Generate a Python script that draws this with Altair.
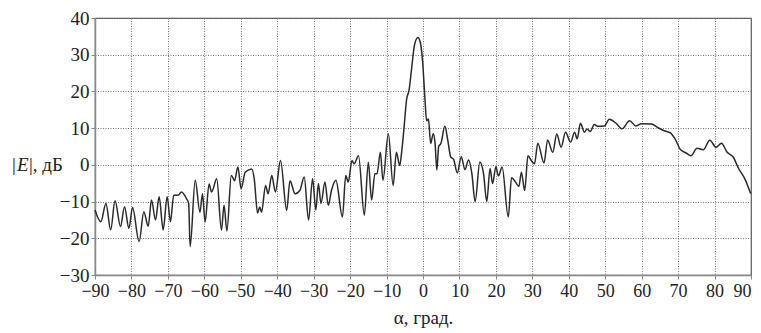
import altair as alt
import pandas as pd

angle = [
    -90, -88.4, -87, -85.7, -84.5, -83, -81.9, -80.7, -79.7, -77.9,
    -76.6, -75.4, -74.5, -73.4, -72.4, -71.3, -70.2, -69.3, -68.4, -67.2,
    -66.3, -64.9, -64.3, -63.9, -62.5, -61.2, -60.5, -59.8, -58.7, -58,
    -56.6, -55.3, -54.6, -53.8, -52.6, -51.7, -50.8, -49.9, -48.8, -47,
    -46.3, -45.4, -44.8, -44.3, -43.2, -42.5, -41.5, -40.5, -39.1, -37.4,
    -36.5, -35.1, -33.8, -32.6, -31.4, -30.3, -29.4, -28.7, -28, -26.9,
    -26, -25.1, -23.9, -22.1, -21.2, -20.5, -19.5, -18.9, -17.7, -16.1,
    -15, -14.1, -13.2, -12.6, -11.7, -11, -9.5, -8.2, -7.3, -6.4,
    -5.8, -5.3, -4.5, -3.8, -3.2, -2.3, -1.4, -0.7, -0.1, 0.5,
    1, 1.5, 2.1, 2.8, 3.3, 3.8, 4.3, 4.9, 6.0, 6.8,
    7.6, 8.4, 9.4, 10.5, 11.5, 12.5, 13.4, 14.3, 15.6, 16.6,
    17.5, 18.4, 19.1, 20, 20.7, 21.7, 23.4, 24.3, 25.4, 26.3,
    27, 27.9, 28.8, 29.7, 30.6, 31.5, 33.2, 34.2, 35.6, 36.7,
    37.9, 39.1, 40.5, 41.6, 42.3, 43.2, 44.3, 45, 45.9, 47,
    47.9, 49.8, 51.1, 52.9, 54.6, 56.7, 58.4, 59.9, 62.7, 64.5,
    66.2, 67.9, 69.2, 70.7, 72.1, 73.5, 75.2, 76.9, 78.7, 80.4,
    81.9, 83.4, 85.2, 86.6, 88.3, 89.9,
]

level_db = [
    -12.3, -15.5, -10.5, -17.7, -9.8, -16.8, -11.4, -17.3, -11.6, -20.9,
    -12.8, -16.7, -9.6, -15, -8.7, -17.7, -8.7, -15.5, -8.3, -8.3,
    -7.4, -9.2, -10.5, -22.3, -4.2, -12.9, -7.9, -15.6, -5.2, -7.4,
    -3.8, -17.8, -11, -18, -2.9, -4.3, -0.6, -6.5, -2, -1.1,
    -3.8, -13.1, -11.5, -12.9, -5.6, -7.9, -2.9, -7.4, 1.2, -12.4,
    -4.3, -7.9, -7, -3.3, -15, -3.8, -12.3, -5.1, -10.5, -4.7,
    -11, -6.9, -4.2, -14.2, -2.9, -4.7, 1.2, 0.3, 2.5, -13.7,
    0.7, -9.6, -2.4, -2.4, 3.4, -4.2, 8.5, -5.6, 3.4, -0.2,
    4, 9, 17.8, 20.5, 25.6, 32.8, 34.7, 33.2, 28, 18.5,
    12, 12.5, 5.8, 8.5, 6, -1.4, 5, 5.8, 10.5, 6.7,
    2.2, 1.5, -2.2, 2.2, -1.3, 1.3, -2.3, -10, 0.8, -2.3,
    -10, -1, -5.1, -0.5, -3.0, -0.6, -14.2, -3.5, -4.7, -5.9,
    -2, -7, 2.5, 1.2, 0.3, 5.9, 0.5, 6.8, 3.4, 8.4,
    4.8, 8.9, 6.2, 8.9, 7.1, 11.3, 8.9, 9.8, 9.1, 11,
    10.5, 10.6, 12.4, 11.4, 9.8, 12, 10.6, 11.2, 11.1, 10.1,
    9.3, 8.7, 7, 4.1, 3.3, 2.5, 4.5, 4.1, 6.7, 4.8,
    5.9, 3.5, 2, -1, -3.8, -7.8,
]

x_ticks = list(range(-90, 91, 10))
y_ticks = list(range(-30, 41, 10))

df = pd.DataFrame({"alpha": angle, "E": level_db})

FONT = "Liberation Serif"

line = alt.Chart(df).mark_line(
    color="#2a2a2a", strokeWidth=1.5, interpolate="monotone"
).encode(
    x=alt.X("alpha:Q",
            scale=alt.Scale(domain=[-90, 90], nice=False, zero=False),
            axis=alt.Axis(values=x_ticks, title="α, град.", format="d",
                          grid=True, tickSize=4, labelPadding=3,
                          titlePadding=8, labelFlush=False,
                          labelAlign=alt.condition("datum.value == 90",
                                                   alt.value("right"),
                                                   alt.value("center")),
                          labelFont=FONT, labelFontSize=18, titleFont=FONT,
                          titleFontSize=19)),
    y=alt.Y("E:Q",
            scale=alt.Scale(domain=[-30, 40], nice=False, zero=False),
            axis=alt.Axis(values=y_ticks, title=None, format="d",
                          grid=True, tickSize=4, labelPadding=2,
                          labelFlush=False, labelFont=FONT, labelFontSize=19)),
)

one = alt.Data(values=[{"k": 1}])
t1 = alt.Chart(one).mark_text(text="|", font=FONT, fontSize=19, align="left",
                              baseline="middle", color="#222").encode(
    x=alt.value(-83), y=alt.value(147))
t2 = alt.Chart(one).mark_text(text="E", font=FONT, fontSize=19, fontStyle="italic",
                              align="left", baseline="middle", color="#222").encode(
    x=alt.value(-78), y=alt.value(147))
t3 = alt.Chart(one).mark_text(text="|, дБ", font=FONT, fontSize=19, align="left",
                              baseline="middle", color="#222").encode(
    x=alt.value(-66), y=alt.value(147))

chart = alt.layer(line, t1, t2, t3).properties(
    width=656, height=257,
    padding={"left": 87, "top": 10, "right": 2, "bottom": 56},
    autosize=alt.AutoSizeParams(type="none"),
).configure_view(
    stroke="#555", strokeWidth=1.2
).configure_axis(
    labelColor="#222", titleColor="#222", titleFontWeight="normal",
    gridColor="#777", gridDash=[1, 1.5], gridWidth=1, gridOpacity=1,
    domainColor="#888", domainWidth=1.5, tickColor="#888", tickWidth=1,
)

chart.save("out.html", embed_options={"renderer": "svg", "actions": False})
